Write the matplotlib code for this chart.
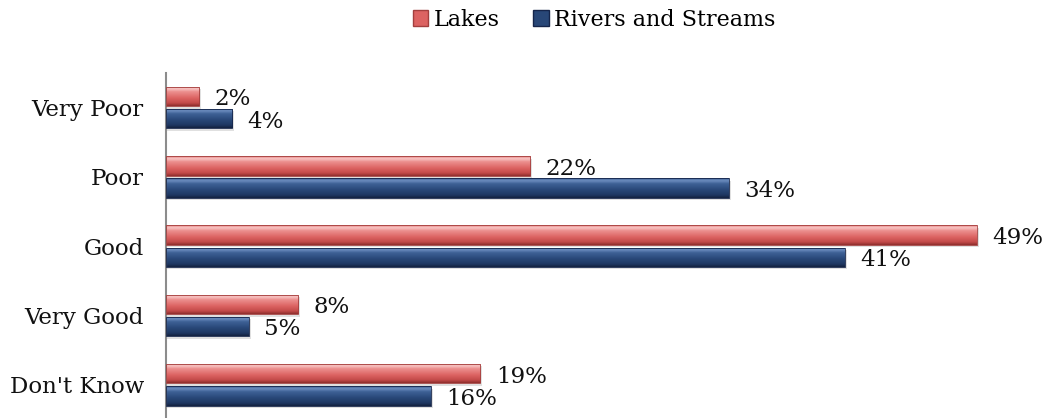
import numpy as np
import matplotlib
matplotlib.use("Agg")
import matplotlib.pyplot as plt
from matplotlib.colors import LinearSegmentedColormap
from matplotlib.patches import Patch

categories = ["Very Poor", "Poor", "Good", "Very Good", "Don't Know"]
lakes = [2, 22, 49, 8, 19]
rivers = [4, 34, 41, 5, 16]
series_names = ["Lakes", "Rivers and Streams"]

plt.rcParams["font.family"] = ["DejaVu Serif"]

# bevelled bar shading: top highlight, body, darker lower edge
red_cmap = LinearSegmentedColormap.from_list(
    "red_bevel",
    [(0.0, "#E67B7A"), (0.12, "#F8C6C5"), (0.28, "#EC8F8E"),
     (0.6, "#DC6362"), (0.85, "#C44B4A"), (1.0, "#8E2E2D")])
blue_cmap = LinearSegmentedColormap.from_list(
    "blue_bevel",
    [(0.0, "#3B5C8F"), (0.12, "#6C8CBE"), (0.28, "#3E6196"),
     (0.6, "#284777"), (0.85, "#1F3863"), (1.0, "#13223F")])
grad = np.linspace(0, 1, 64).reshape(-1, 1)

fig = plt.figure(figsize=(10.49, 4.18), dpi=100)
ax = fig.add_axes([166 / 1049, -1.5 / 418, (1049 - 166) / 1049, 346.5 / 418])

y = np.arange(len(categories))
off = 0.16
h = 0.28

def draw_series(vals, pos, cmap, edge):
    # soft drop shadow
    ax.barh(pos + 0.035, np.array(vals) + 0.12, height=h, left=0,
            color="#000000", alpha=0.12, zorder=1)
    bars = ax.barh(pos, vals, height=h, color="none", edgecolor=edge,
                   linewidth=0.6, zorder=3)
    for v, yc, b in zip(vals, pos, bars):
        im = ax.imshow(grad, cmap=cmap, aspect="auto", interpolation="bilinear",
                       extent=[0, v, yc + h / 2, yc - h / 2], zorder=2)
        im.set_clip_path(b)
        ax.annotate(f"{v}%", xy=(v, yc), xytext=(11, -2),
                    textcoords="offset points", va="center", ha="left",
                    fontsize=16.5, color="#111111")

draw_series(lakes, y - off, red_cmap, "#A33F3E")
draw_series(rivers, y + off, blue_cmap, "#15254A")

ax.set_xlim(0, (1049 - 166) / 16.55)
ax.set_ylim(len(categories) - 0.5, -0.5)
ax.set_yticks(y)
ax.set_yticklabels(categories, fontsize=16.5, color="#111111")
ax.tick_params(axis="y", length=0, pad=16)
ax.set_xticks([])
for s in ["top", "right", "bottom"]:
    ax.spines[s].set_visible(False)
ax.spines["left"].set_color("#8C8C8C")
ax.spines["left"].set_linewidth(1.5)
ax.patch.set_alpha(0)

handles = [Patch(facecolor="#DC6362", edgecolor="#A33F3E", label=series_names[0]),
           Patch(facecolor="#284777", edgecolor="#15254A", label=series_names[1])]
fig.legend(handles=handles, loc="center", bbox_to_anchor=(594 / 1049, 1 - 20 / 418),
           ncol=2, frameon=False, fontsize=16, handlelength=0.7, handleheight=0.7,
           handletextpad=0.25, columnspacing=1.5, borderaxespad=0)

fig.savefig("out.png", dpi=100)
